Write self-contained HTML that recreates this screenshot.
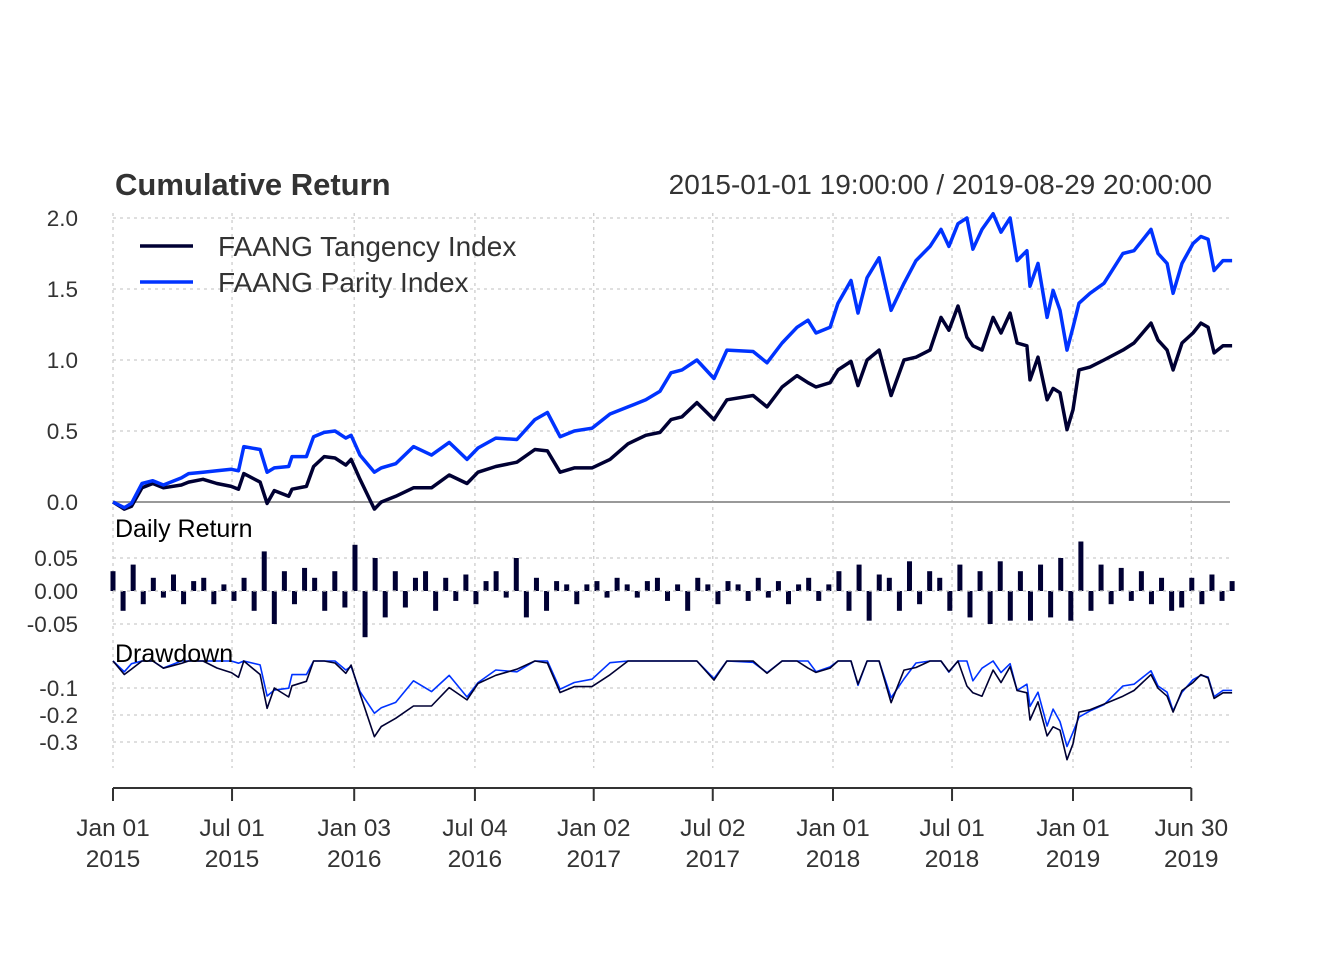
<!DOCTYPE html>
<html><head><meta charset="utf-8"><style>
body{margin:0;background:#fff;}
svg{display:block;font-family:"Liberation Sans",Arial,sans-serif;}
</style></head><body>
<svg id="chart" width="1344" height="960" viewBox="0 0 1344 960">
<rect width="1344" height="960" fill="#fff"/>
<g id="grid"></g>
<g id="marks"></g>
<g id="axes"></g>
<text x="115" y="195" font-size="31" font-weight="bold" fill="#333">Cumulative Return</text>
<text x="1212" y="194" font-size="28" fill="#333" text-anchor="end">2015-01-01 19:00:00 / 2019-08-29 20:00:00</text>
<text x="115" y="537" font-size="25" fill="#000">Daily Return</text>
<text x="115" y="662" font-size="25" fill="#000">Drawdown</text>
<g>
<line x1="140" y1="246" x2="193" y2="246" stroke="#000033" stroke-width="3.5"/>
<text x="218" y="256" font-size="28" fill="#333">FAANG Tangency Index</text>
<line x1="140" y1="282" x2="193" y2="282" stroke="#0033ff" stroke-width="3.5"/>
<text x="218" y="292" font-size="28" fill="#333">FAANG Parity Index</text>
</g>
</svg>
<script>
const years=[2015.000,2015.047,2015.077,2015.121,2015.166,2015.210,2015.285,2015.315,2015.375,2015.433,2015.493,2015.523,2015.545,2015.613,2015.642,2015.672,2015.732,2015.746,2015.806,2015.836,2015.880,2015.925,2015.970,2015.992,2016.029,2016.089,2016.118,2016.178,2016.252,2016.327,2016.401,2016.475,2016.521,2016.595,2016.683,2016.758,2016.810,2016.863,2016.922,2016.996,2017.071,2017.146,2017.220,2017.279,2017.325,2017.371,2017.433,2017.504,2017.558,2017.667,2017.725,2017.788,2017.850,2017.896,2017.929,2017.988,2018.021,2018.075,2018.104,2018.142,2018.192,2018.242,2018.296,2018.346,2018.404,2018.450,2018.483,2018.521,2018.558,2018.583,2018.621,2018.667,2018.700,2018.738,2018.767,2018.808,2018.821,2018.854,2018.892,2018.917,2018.946,2018.975,2019.000,2019.025,2019.071,2019.129,2019.208,2019.254,2019.325,2019.354,2019.392,2019.417,2019.454,2019.500,2019.533,2019.563,2019.588,2019.625,2019.663];
const tangency=[0,-0.05,-0.03,0.10,0.13,0.10,0.12,0.14,0.16,0.13,0.11,0.09,0.20,0.14,-0.01,0.08,0.04,0.09,0.11,0.25,0.32,0.31,0.26,0.30,0.16,-0.05,0.00,0.04,0.10,0.10,0.19,0.13,0.21,0.25,0.28,0.37,0.36,0.21,0.24,0.24,0.30,0.41,0.47,0.49,0.58,0.60,0.70,0.58,0.72,0.75,0.67,0.81,0.89,0.84,0.81,0.84,0.93,0.99,0.82,1.00,1.07,0.75,1.00,1.02,1.07,1.30,1.21,1.38,1.16,1.10,1.07,1.30,1.19,1.33,1.12,1.10,0.86,1.02,0.72,0.80,0.77,0.51,0.65,0.93,0.95,1.00,1.07,1.12,1.26,1.14,1.07,0.93,1.12,1.19,1.26,1.23,1.05,1.10,1.10];
const parity=[0,-0.04,-0.01,0.13,0.15,0.12,0.17,0.20,0.21,0.22,0.23,0.22,0.39,0.37,0.21,0.24,0.25,0.32,0.32,0.46,0.49,0.50,0.45,0.47,0.33,0.21,0.24,0.27,0.39,0.33,0.42,0.30,0.38,0.45,0.44,0.58,0.63,0.46,0.50,0.52,0.62,0.67,0.72,0.78,0.91,0.93,1.00,0.87,1.07,1.06,0.98,1.12,1.23,1.28,1.19,1.23,1.40,1.56,1.33,1.58,1.72,1.35,1.54,1.70,1.80,1.92,1.80,1.96,2.00,1.78,1.92,2.03,1.90,2.00,1.70,1.77,1.52,1.68,1.30,1.49,1.35,1.07,1.23,1.40,1.47,1.54,1.75,1.77,1.92,1.75,1.68,1.47,1.68,1.82,1.87,1.85,1.63,1.70,1.70];
const dailyReturns=[0.03,-0.03,0.04,-0.02,0.02,-0.01,0.025,-0.02,0.015,0.02,-0.02,0.01,-0.015,0.02,-0.03,0.06,-0.05,0.03,-0.02,0.035,0.02,-0.03,0.03,-0.025,0.07,-0.07,0.05,-0.04,0.03,-0.025,0.02,0.03,-0.03,0.02,-0.015,0.025,-0.02,0.015,0.03,-0.01,0.05,-0.04,0.02,-0.03,0.015,0.01,-0.02,0.01,0.015,-0.01,0.02,0.01,-0.01,0.015,0.02,-0.015,0.01,-0.03,0.02,0.01,-0.02,0.015,0.01,-0.015,0.02,-0.01,0.015,-0.02,0.01,0.02,-0.015,0.01,0.03,-0.03,0.04,-0.045,0.025,0.02,-0.03,0.045,-0.02,0.03,0.02,-0.03,0.04,-0.04,0.03,-0.05,0.045,-0.045,0.03,-0.045,0.04,-0.04,0.05,-0.045,0.075,-0.03,0.04,-0.02,0.035,-0.015,0.03,-0.02,0.02,-0.03,-0.025,0.02,-0.02,0.025,-0.015,0.015];
const tickYears=[2015.0,2015.496,2016.005,2016.508,2017.003,2017.499,2018.0,2018.496,2019.0,2019.493];
const tickLine1=["Jan 01","Jul 01","Jan 03","Jul 04","Jan 02","Jul 02","Jan 01","Jul 01","Jan 01","Jun 30"];
const tickLine2=["2015","2015","2016","2016","2017","2017","2018","2018","2019","2019"];
const cumTicks=[0,0.5,1,1.5,2];
const cumTickLabels=["0.0","0.5","1.0","1.5","2.0"];
const retTicks=[0.05,0,-0.05];
const retTickLabels=["0.05","0.00","-0.05"];
const ddTicks=[-0.1,-0.2,-0.3];
const ddTickLabels=["-0.1","-0.2","-0.3"];

const NS="http://www.w3.org/2000/svg";
const X=y=>113+(y-2015)*240;
const Ycum=v=>502-v*142;
const Yret=v=>591-v*660;
function mk(tag,attrs,parent){const e=document.createElementNS(NS,tag);for(const k in attrs)e.setAttribute(k,attrs[k]);parent.appendChild(e);return e;}
const grid=document.getElementById('grid'),marks=document.getElementById('marks'),axes=document.getElementById('axes');
const dash={stroke:"#ccc","stroke-width":1.3,"stroke-dasharray":"3,4"};
tickYears.forEach(t=>{
  const l=mk('line',Object.assign({x1:X(t),x2:X(t),y1:213,y2:768},dash),grid);
  
  
});
function hgrid(vals,labels,scale,name){
  vals.forEach((v,i)=>{
    const l=mk('line',Object.assign({x1:113,x2:1230,y1:scale(v),y2:scale(v)},dash),grid);
    
    
    const t=mk('text',{x:78,y:scale(v)+8,"text-anchor":"end","font-size":22.5,fill:"#333"},axes);
    t.textContent=labels[i];
    
    
  });
}
hgrid(cumTicks.slice(1),cumTickLabels.slice(1),Ycum,'cumulative');
const z=mk('text',{x:78,y:Ycum(0)+8,"text-anchor":"end","font-size":22.5,fill:"#333"},axes);
z.textContent=cumTickLabels[0];


const zl=mk('line',{x1:113,x2:1230,y1:Ycum(0),y2:Ycum(0),stroke:"#999","stroke-width":2},grid);


hgrid(retTicks,retTickLabels,Yret,'return');
hgrid(ddTicks,ddTickLabels,v=>661+(-v)*270,'drawdown');

function path(xs,ys,sx,sy,color,w,name){
  const d=xs.map((x,i)=>(i?'L':'M')+sx(x).toFixed(1)+','+sy(ys[i]).toFixed(1)).join('');
  const p=mk('path',{d:d,fill:"none",stroke:color,"stroke-width":w,"stroke-linejoin":"round"},marks);
  
  
}
path(years,tangency,X,Ycum,"#000033",3.5,'tangency-cumulative-line');
path(years,parity,X,Ycum,"#0033ff",3.5,'parity-cumulative-line');
const n=dailyReturns.length,y0=years[0],y1=years[years.length-1];
dailyReturns.forEach((r,i)=>{
  const x=X(y0+i*(y1-y0)/(n-1));
  const b=mk('rect',{x:x-2.5,y:Math.min(Yret(r),Yret(0)),width:5,height:Math.abs(Yret(r)-Yret(0)),fill:"#000033"},marks);
  
  
});
const zr=mk('line',{x1:113,x2:1230,y1:Yret(0),y2:Yret(0),stroke:"#ccc","stroke-width":1.3,"stroke-dasharray":"3,4"},marks);


function dd(arr){let m=1;return arr.map(v=>{m=Math.max(m,1+v);return (1+v)/m-1;});}
const Yd=v=>661+(-v)*270;
path(years,dd(parity),X,Yd,"#0033ff",1.6,'parity-drawdown-line');
path(years,dd(tangency),X,Yd,"#000033",1.6,'tangency-drawdown-line');
const ax=mk('line',{x1:X(tickYears[0]),x2:X(tickYears[tickYears.length-1]),y1:788,y2:788,stroke:"#333","stroke-width":2},axes);


tickYears.forEach((t,i)=>{
  const tk=mk('line',{x1:X(t),x2:X(t),y1:788,y2:801,stroke:"#333","stroke-width":2},axes);
  
  
  const a=mk('text',{x:X(t),y:836,"text-anchor":"middle","font-size":24.5,fill:"#333"},axes);
  a.textContent=tickLine1[i];
  
  
  const b=mk('text',{x:X(t),y:867,"text-anchor":"middle","font-size":24.5,fill:"#333"},axes);
  b.textContent=tickLine2[i];
  
  
});
</script>
</body></html>
